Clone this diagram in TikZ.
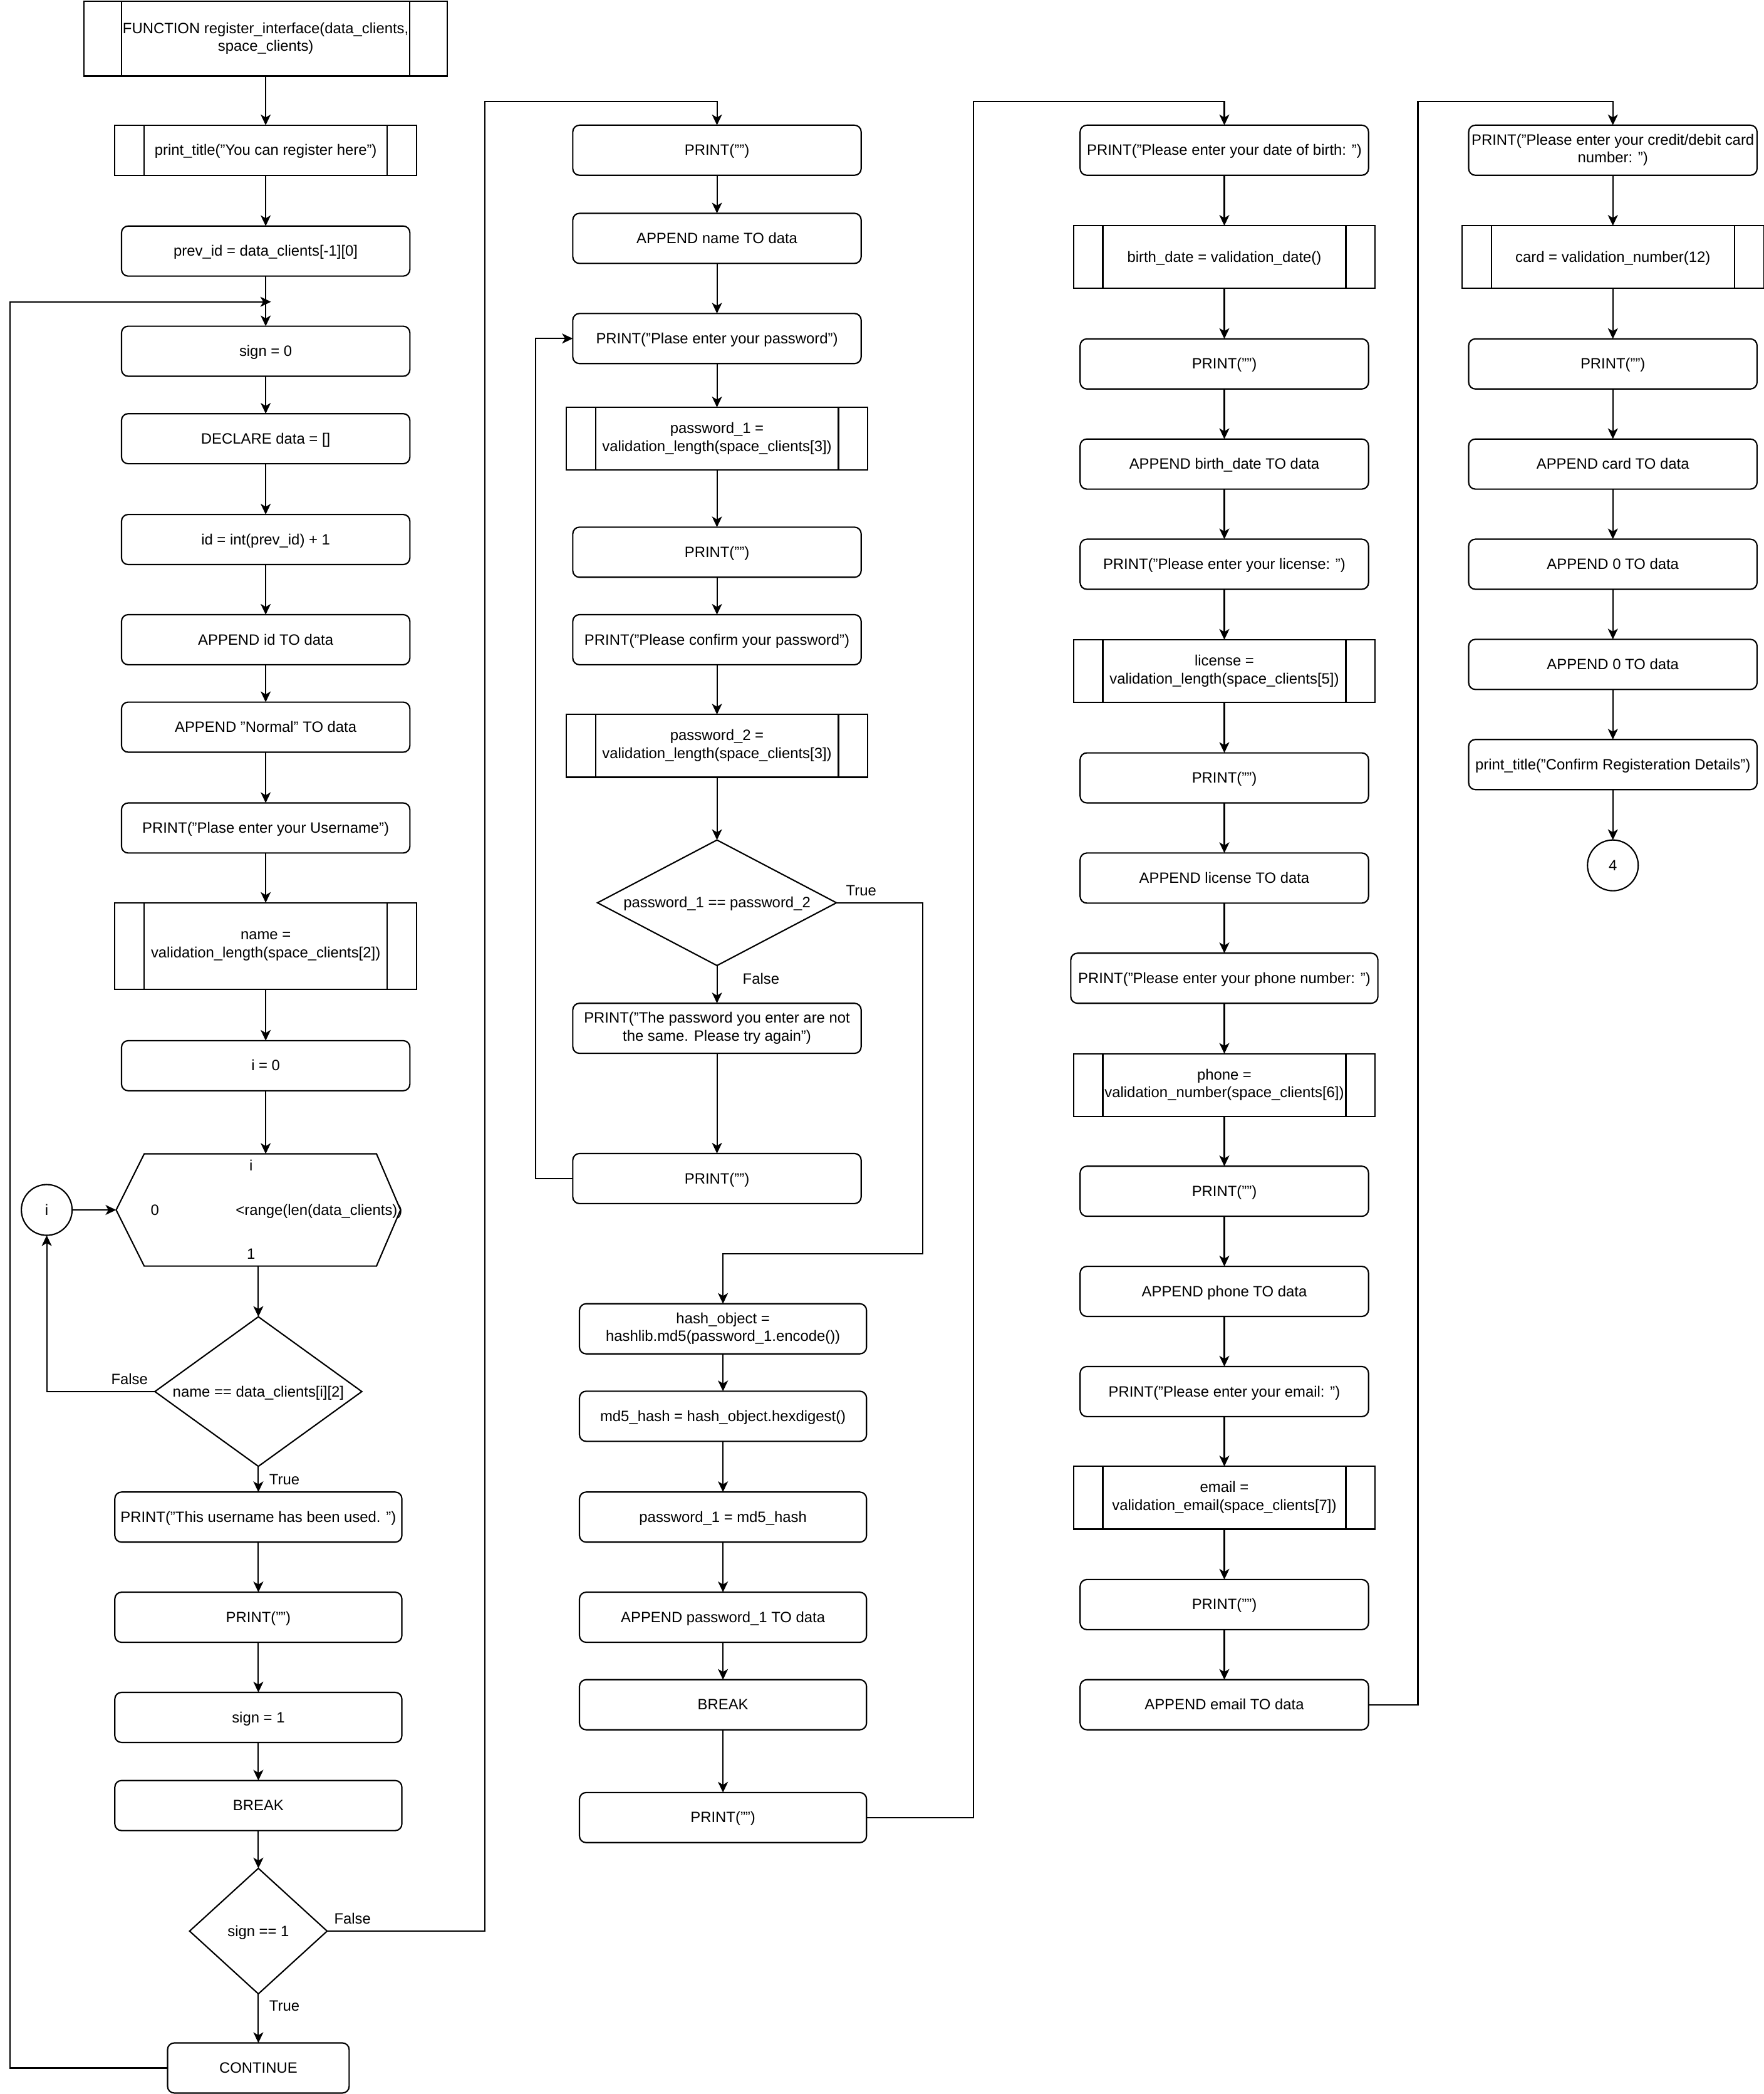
\documentclass[tikz,border=0pt]{standalone}
\usepackage{fontspec}
\setmainfont{Liberation Sans}
\usetikzlibrary{arrows.meta,shapes.geometric}

\tikzset{
  every node/.style={font=\fontsize{11.2}{13.4}\selectfont, inner sep=1pt, outer sep=0pt, align=center,
    execute at begin node={\rule[-2.6pt]{0pt}{12.8pt}}},
  line/.style={line width=1pt},
  arr/.style={line width=1pt, -{Stealth[length=8pt,width=7.5pt,inset=2.2pt]}},
  proc/.style={draw, line width=1pt, rounded corners=5pt, minimum height=37.5pt, minimum width=#1},
  proc/.default=216pt,
  subproc/.style n args={3}{draw, line width=1pt, minimum width=#1, minimum height=#2,
    path picture={\draw[line width=1pt]
      ([xshift=#3]path picture bounding box.north west) -- ([xshift=#3]path picture bounding box.south west)
      ([xshift=-#3]path picture bounding box.north east) -- ([xshift=-#3]path picture bounding box.south east);}},
  dia/.style 2 args={draw, diamond, line width=1pt, minimum width=#1, minimum height=#2, inner sep=0pt},
  conn/.style={circle, draw, line width=1pt, minimum size=38pt, inner sep=0pt},
}

\begin{document}
\begin{tikzpicture}[x=1pt,y=-1pt]
\useasboundingbox (0,0) rectangle (1321,1568);

% ---------------- column 1: entry, username check ----------------
\node[subproc={272pt}{56pt}{28pt}] (func) at (199,29) {FUNCTION register\_interface(data\_clients,\\space\_clients)};
\node[subproc={226pt}{37.5pt}{22pt}] (ptitle) at (199,112.5) {print\_title("You can register here")};
\node[proc] (previd) at (199,188) {prev\_id = data\_clients[-1][0]};
\node[proc] (sign0) at (199,263) {sign = 0};
\node[proc] (declare) at (199,328.5) {DECLARE data = []};
\node[proc] (newid) at (199,404) {id = int(prev\_id) + 1};
\node[proc] (appid) at (199,479) {APPEND id TO data};
\node[proc] (appnorm) at (199,544.5) {APPEND "Normal" TO data};
\node[proc] (askuser) at (199,620) {PRINT("Plase enter your Username")};
\node[subproc={226pt}{65pt}{22pt}] (getname) at (199,708.5) {name =\\validation\_length(space\_clients[2])};
\node[proc] (initi) at (199,798) {i = 0};

% for-loop hexagon
\node[minimum width=213pt, minimum height=84pt] (loop) at (193.5,906) {};
\draw[line] (loop.west) -- ([xshift=21pt]loop.north west) -- ([xshift=-18pt]loop.north east)
  -- (loop.east) -- ([xshift=-18pt]loop.south east) -- ([xshift=21pt]loop.south west) -- cycle;
\node (loopvar) at (188,873) {i};
\node (loopfrom) at (116,906) {0};
\node (loopto) at (239,906) {<range(len(data\_clients))};
\node (loopstep) at (188,939) {1};

\node[conn] (ci) at (35,906) {i};
\node[dia={155pt}{112pt}, label={center:{name == data\_clients[i][2]}}] (namechk) at (193.5,1042) {};
\node[proc={215pt}] (used) at (193.5,1136) {PRINT("This username has been used. ")};
\node[proc={215pt}] (blank1) at (193.5,1211) {PRINT("")};
\node[proc={215pt}] (sign1) at (193.5,1286) {sign = 1};
\node[proc={215pt}] (brk1) at (193.5,1352) {BREAK};
\node[dia={103pt}{94pt}, label={center:{sign == 1}}] (signchk) at (193.5,1446) {};
\node[proc={136pt}] (cont) at (193.5,1548.5) {CONTINUE};
\coordinate (loopin) at (203,226);

\draw[arr] (func.south) -- (ptitle.north);
\draw[arr] (ptitle.south) -- (previd.north);
\draw[arr] (previd.south) -- (sign0.north);
\draw[arr] (sign0.south) -- (declare.north);
\draw[arr] (declare.south) -- (newid.north);
\draw[arr] (newid.south) -- (appid.north);
\draw[arr] (appid.south) -- (appnorm.north);
\draw[arr] (appnorm.south) -- (askuser.north);
\draw[arr] (askuser.south) -- (getname.north);
\draw[arr] (getname.south) -- (initi.north);
\draw[arr] (initi.south) -- (initi.south |- loop.north);
\draw[arr] (ci.east) -- (loop.west);
\draw[arr] (loop.south) -- (namechk.north);
\draw[arr] (namechk.west) -| (ci.south);
\draw[arr] (namechk.south) -- (used.north);
\draw[arr] (used.south) -- (blank1.north);
\draw[arr] (blank1.south) -- (sign1.north);
\draw[arr] (sign1.south) -- (brk1.north);
\draw[arr] (brk1.south) -- (signchk.north);
\draw[arr] (signchk.south) -- (cont.north);
\draw[arr] (cont.west) -- ++(-118,0) |- (loopin);

\node (lf1) at (97,1033) {False};
\node (lt1) at (213,1108) {True};
\node (lf2) at (264,1437) {False};
\node (lt2) at (213,1502) {True};

% ---------------- column 2: password ----------------
\node[proc] (p2a) at (537,112.5) {PRINT("")};
\node[proc] (appname) at (537,178.5) {APPEND name TO data};
\node[proc] (askpwd) at (537,253.5) {PRINT("Plase enter your password")};
\node[subproc={226pt}{47pt}{22pt}] (getpwd1) at (537,328.5) {password\_1 =\\validation\_length(space\_clients[3])};
\node[proc] (p2b) at (537,413.5) {PRINT("")};
\node[proc] (confirm) at (537,479) {PRINT("Please confirm your password")};
\node[subproc={226pt}{47pt}{22pt}] (getpwd2) at (537,558.5) {password\_2 =\\validation\_length(space\_clients[3])};
\node[dia={179pt}{94pt}, label={center:{password\_1 == password\_2}}] (pwdchk) at (537,676) {};
\node[proc] (mismatch) at (537,770) {PRINT("The password you enter are not\\the same. Please try again")};
\node[proc] (p2c) at (537,882.5) {PRINT("")};
\node[proc={215pt}] (hash) at (541.5,995) {hash\_object =\\hashlib.md5(password\_1.encode())};
\node[proc={215pt}] (md5) at (541.5,1060.5) {md5\_hash = hash\_object.hexdigest()};
\node[proc={215pt}] (pwdhash) at (541.5,1136) {password\_1 = md5\_hash};
\node[proc={215pt}] (apppwd) at (541.5,1211) {APPEND password\_1 TO data};
\node[proc={215pt}] (brk2) at (541.5,1276.5) {BREAK};
\node[proc={215pt}] (p2d) at (541.5,1361) {PRINT("")};

\draw[arr] (p2a.south) -- (appname.north);
\draw[arr] (appname.south) -- (askpwd.north);
\draw[arr] (askpwd.south) -- (getpwd1.north);
\draw[arr] (getpwd1.south) -- (p2b.north);
\draw[arr] (p2b.south) -- (confirm.north);
\draw[arr] (confirm.south) -- (getpwd2.north);
\draw[arr] (getpwd2.south) -- (pwdchk.north);
\draw[arr] (pwdchk.south) -- (mismatch.north);
\draw[arr] (mismatch.south) -- (p2c.north);
\draw[arr] (p2c.west) -- ++(-28,0) |- (askpwd.west);
\draw[arr] (pwdchk.east) -| (691,939) -| (hash.north);
\draw[arr] (hash.south) -- (md5.north);
\draw[arr] (md5.south) -- (pwdhash.north);
\draw[arr] (pwdhash.south) -- (apppwd.north);
\draw[arr] (apppwd.south) -- (brk2.north);
\draw[arr] (brk2.south) -- (p2d.north);

\node (lt3) at (645,667) {True};
\node (lf3) at (570,733) {False};

% ---------------- column 3: birth date, license, phone, email ----------------
\node[proc] (birthp) at (917,112.5) {PRINT("Please enter your date of birth: ")};
\node[subproc={226pt}{47pt}{22pt}] (birth) at (917,192.5) {birth\_date = validation\_date()};
\node[proc] (p3a) at (917,272.5) {PRINT("")};
\node[proc] (appbirth) at (917,347.5) {APPEND birth\_date TO data};
\node[proc] (licp) at (917,422.5) {PRINT("Please enter your license: ")};
\node[subproc={226pt}{47pt}{22pt}] (lic) at (917,502.5) {license =\\validation\_length(space\_clients[5])};
\node[proc] (p3b) at (917,582.5) {PRINT("")};
\node[proc] (applic) at (917,657.5) {APPEND license TO data};
\node[proc={230pt}] (phonep) at (917,732.5) {PRINT("Please enter your phone number: ")};
\node[subproc={226pt}{47pt}{22pt}] (phone) at (917,812.5) {phone =\\validation\_number(space\_clients[6])};
\node[proc] (p3c) at (917,892) {PRINT("")};
\node[proc] (appphone) at (917,967) {APPEND phone TO data};
\node[proc] (emailp) at (917,1042) {PRINT("Please enter your email: ")};
\node[subproc={226pt}{47pt}{22pt}] (email) at (917,1121.5) {email =\\validation\_email(space\_clients[7])};
\node[proc] (p3d) at (917,1201.5) {PRINT("")};
\node[proc] (appemail) at (917,1276.5) {APPEND email TO data};

\draw[arr] (birthp.south) -- (birth.north);
\draw[arr] (birth.south) -- (p3a.north);
\draw[arr] (p3a.south) -- (appbirth.north);
\draw[arr] (appbirth.south) -- (licp.north);
\draw[arr] (licp.south) -- (lic.north);
\draw[arr] (lic.south) -- (p3b.north);
\draw[arr] (p3b.south) -- (applic.north);
\draw[arr] (applic.south) -- (phonep.north);
\draw[arr] (phonep.south) -- (phone.north);
\draw[arr] (phone.south) -- (p3c.north);
\draw[arr] (p3c.south) -- (appphone.north);
\draw[arr] (appphone.south) -- (emailp.north);
\draw[arr] (emailp.south) -- (email.north);
\draw[arr] (email.south) -- (p3d.north);
\draw[arr] (p3d.south) -- (appemail.north);

% ---------------- column 4: card and confirmation ----------------
\node[proc] (cardp) at (1208,112.5) {PRINT("Please enter your credit/debit card\\number: ")};
\node[subproc={226pt}{47pt}{22pt}] (card) at (1208,192.5) {card = validation\_number(12)};
\node[proc] (p4a) at (1208,272.5) {PRINT("")};
\node[proc] (appcard) at (1208,347.5) {APPEND card TO data};
\node[proc] (app0a) at (1208,422.5) {APPEND 0 TO data};
\node[proc] (app0b) at (1208,497.5) {APPEND 0 TO data};
\node[proc] (ptconf) at (1208,572.5) {print\_title("Confirm Registeration Details")};
\node[conn] (c4) at (1208,648) {4};

\draw[arr] (cardp.south) -- (card.north);
\draw[arr] (card.south) -- (p4a.north);
\draw[arr] (p4a.south) -- (appcard.north);
\draw[arr] (appcard.south) -- (app0a.north);
\draw[arr] (app0a.south) -- (app0b.north);
\draw[arr] (app0b.south) -- (ptconf.north);
\draw[arr] (ptconf.south) -- (c4.north);

% ---------------- links between the columns ----------------
\draw[arr] (signchk.east) -| (363,76) -| (p2a.north);
\draw[arr] (p2d.east) -| (729,76) -| (birthp.north);
\draw[arr] (appemail.east) -| (1062,76) -| (cardp.north);
\end{tikzpicture}
\end{document}
